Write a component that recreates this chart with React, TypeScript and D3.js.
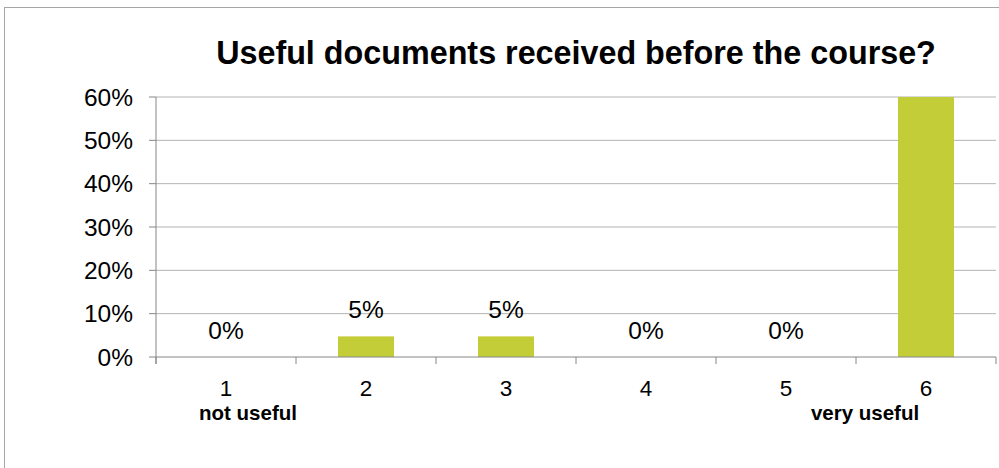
import React from 'react'
import * as d3 from 'd3'

// chart data
const categories = ['1', '2', '3', '4', '5', '6']
const shares = [0, 0.0476, 0.0476, 0, 0, 0.9048]
const yTicks = [0, 0.1, 0.2, 0.3, 0.4, 0.5, 0.6]
const title = 'Useful documents received before the course?'
const endLabels = [
    { cat: '1', text: 'not useful', dx: 22 },
    { cat: '6', text: 'very useful', dx: -61 },
]

const W = 999
const H = 468

export default function App() {
    const margin = { top: 97, right: 3, bottom: 111, left: 156 }
    const plotH = H - margin.top - margin.bottom

    const x = d3.scaleBand()
        .domain(categories)
        .range([margin.left, W - margin.right])
        .paddingInner(0.6)
        .paddingOuter(0.3)

    // band step without padding, for the category tick marks
    const step = (W - margin.right - margin.left) / categories.length

    const y = d3.scaleLinear()
        .domain([0, 0.6])
        .range([margin.top + plotH, margin.top])
        .clamp(true)

    const fmt = d3.format('.0%')
    const font = 'Arial, "Liberation Sans", sans-serif'
    const baseY = y(0)

    return (
        <svg width={W} height={H} style={{ position: 'absolute', left: 0, top: 0, background: '#fff' }}
            fontFamily={font}>
            {/* outer frame, runs past the right/bottom edge */}
            <rect x={4.5} y={7.5} width={W + 10} height={H + 10} fill="none" stroke="#a6a6a6" />

            <text x={(margin.left + W - margin.right) / 2} y={64} textAnchor="middle"
                fontSize={32.3} fontWeight="bold" fill="#000">{title}</text>

            {/* gridlines */}
            {yTicks.map(t => (
                <g key={t}>
                    {t > 0 && <line x1={margin.left} x2={W - margin.right} y1={y(t)} y2={y(t)}
                        stroke="#b3b3b3" strokeWidth={1} />}
                    <line x1={margin.left - 7} x2={margin.left} y1={y(t)} y2={y(t)} stroke="#868686" />
                    <text x={133} y={y(t) + 8.5} textAnchor="end" fontSize={24.5} fill="#000">{fmt(t)}</text>
                </g>
            ))}

            {/* bars */}
            {categories.map((c, i) => (
                <rect key={c} x={x(c)} y={y(shares[i])} width={x.bandwidth()}
                    height={baseY - y(shares[i])} fill="#c2cd38" />
            ))}

            {/* axes */}
            <line x1={margin.left} x2={margin.left} y1={margin.top} y2={baseY + 7} stroke="#868686" />
            <line x1={margin.left} x2={W - margin.right} y1={baseY} y2={baseY} stroke="#868686" />
            {d3.range(categories.length + 1).map(i => (
                <line key={i} x1={margin.left + i * step} x2={margin.left + i * step}
                    y1={baseY} y2={baseY + 7} stroke="#868686" />
            ))}

            {/* value labels (hidden when the bar runs off the scale) */}
            {categories.map((c, i) => shares[i] <= 0.6 && (
                <text key={c} x={x(c)! + x.bandwidth() / 2} y={y(shares[i]) - 18}
                    textAnchor="middle" fontSize={24.5} fill="#000">{fmt(shares[i])}</text>
            ))}

            {/* category labels */}
            {categories.map(c => (
                <text key={c} x={x(c)! + x.bandwidth() / 2} y={396} textAnchor="middle"
                    fontSize={22.5} fill="#000">{c}</text>
            ))}
            {endLabels.map(l => (
                <text key={l.cat} x={x(l.cat)! + x.bandwidth() / 2 + l.dx} y={420}
                    textAnchor="middle" fontSize={20.5} fontWeight="bold" fill="#000">{l.text}</text>
            ))}
        </svg>
    )
}
